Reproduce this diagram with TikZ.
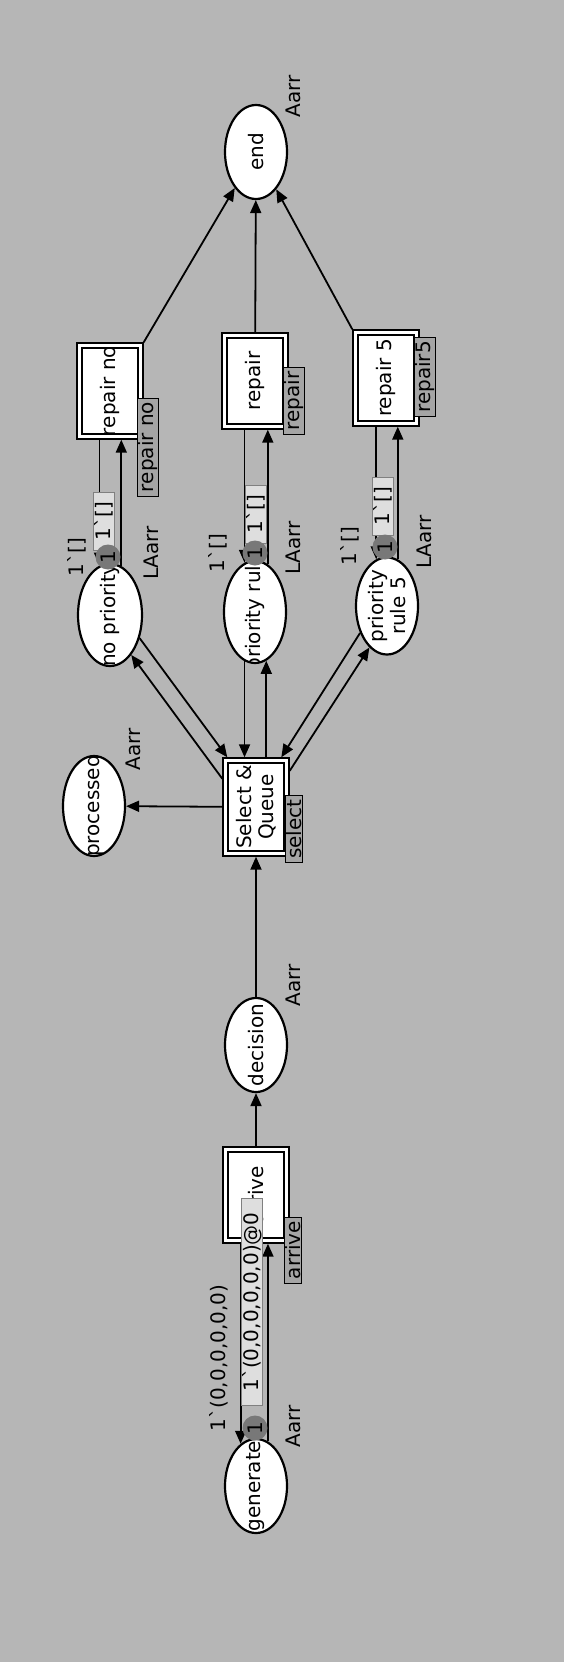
\documentclass[tikz,border=0pt]{standalone}
\usepackage{fontspec}
\setmainfont{DejaVu Sans}
\usetikzlibrary{arrows.meta,shapes.geometric}
\definecolor{bggray}{RGB}{182,182,182}
\definecolor{taggray}{RGB}{165,165,165}
\definecolor{tokgray}{RGB}{120,120,120}
\definecolor{markfill}{RGB}{222,222,222}
\newcommand{\bq}{\textasciigrave}
\tikzset{
  flow/.style={line width=1.8pt,-{Triangle[length=13pt,width=11pt]}},
  lbl/.style={rotate=90,inner sep=0pt},
  tagbox/.style={draw,line width=0.8pt,fill=taggray,rotate=90,inner xsep=4pt,inner ysep=0.5pt},
  markbox/.style={draw=gray,line width=0.6pt,fill=markfill,rotate=90,inner xsep=10pt,inner ysep=1pt},
  token/.style={circle,fill=tokgray,minimum size=25pt,inner sep=0pt,rotate=90}
}
\begin{document}
\begin{tikzpicture}[x=1pt,y=-1pt,
  every node/.style={font=\fontsize{20}{22}\selectfont},
  place/.style={ellipse,draw,line width=2.2pt,fill=white,minimum width=62pt,
    minimum height=94pt,inner sep=0pt,
    path picture={\node[draw=none,fill=none,rotate=90,align=center]
      at (path picture bounding box.center) {#1};}},
  trans/.style={rectangle,draw,line width=2pt,double=white,double distance=2.4pt,
    fill=white,minimum width=61pt,minimum height=91pt,inner sep=0pt,outer sep=3.2pt,
    path picture={\node[draw=none,fill=none,rotate=90,align=center]
      at (path picture bounding box.center) {#1};}}]
\fill[bggray] (0,0) rectangle (564,1662);
\useasboundingbox (0,0) rectangle (564,1662);

% places
\node[place=end] (end) at (256,152) {};
\node[place={no priority},minimum width=64pt,minimum height=102pt] (nopri) at (110,615) {};
\node[place={priority rule},minimum height=102pt] (prirule) at (255,612) {};
\node[place={priority\\rule 5},minimum height=97pt] (prirule5) at (387,606) {};
\node[place=processed,minimum height=100pt] (processed) at (94,806) {};
\node[place=decision] (decision) at (256,1045) {};
\node[place=generate] (generate) at (256,1486) {};

% transitions
\node[trans={repair no}] (repairno) at (110,391) {};
\node[trans=repair] (repair) at (255,381) {};
\node[trans={repair 5}] (repair5) at (386,378) {};
\node[trans={Select \&\\Queue},minimum height=93pt] (select) at (256,807) {};
\node[trans=arrive] (arrive) at (256,1195) {};

% arcs
\draw[flow] (repairno.north east) -- (end);
\draw[flow] (repair) -- (end);
\draw[flow] (repair5.north west) -- (end);
\draw[flow] (nopri.102 |- repairno.south) -- (nopri.102);
\draw[flow] (nopri.77) -- (nopri.77 |- repairno.south);
\draw[flow] (prirule.102 |- repair.south) -- (prirule.102);
\draw[flow] (prirule.75) -- (prirule.75 |- repair.south);
\draw[flow] (prirule5.103 |- repair5.south) -- (prirule5.103);
\draw[flow] (prirule5.77) -- (prirule5.77 |- repair5.south);
\draw[flow] (nopri.-38) -- (select.120);
\draw[flow] (select.140) -- (nopri.-62);
\draw[flow] (prirule.-102) -- (prirule.-102 |- select.north);
\draw[flow] (prirule.-77 |- select.north) -- (prirule.-77);
\draw[flow] (prirule5.-135) -- (select.63);
\draw[flow] (select.47) -- (prirule5.-113);
\draw[flow] (select) -- (processed);
\draw[flow] (decision) -- (select);
\draw[flow] (arrive) -- (decision);
\draw[flow] (generate.110 |- arrive.south) -- (generate.110);
\draw[flow] (generate.75) -- (generate.75 |- arrive.south);

% tags
\node[tagbox] (repairnotag) at (148,447) {repair no};
\node[tagbox] (repairtag) at (294,401) {repair};
\node[tagbox] (repair5tag) at (425,377) {repair5};
\node[tagbox] (selecttag) at (294,829) {select};
\node[tagbox] (arrivetag) at (293,1250) {arrive};

% colour sets and initial markings
\node[lbl] (endtype) at (293,96) {Aarr};
\node[lbl] (proctype) at (133,749) {Aarr};
\node[lbl] (dectype) at (293,985) {Aarr};
\node[lbl] (gentype) at (293,1426) {Aarr};
\node[lbl] (nopritype) at (151,553) {LAarr};
\node[lbl] (prirultype) at (293,548) {LAarr};
\node[lbl] (prirul5type) at (424,542) {LAarr};
\node[lbl] (nopriinit) at (77,557) {1\bq[]};
\node[lbl] (prirulinit) at (218,553) {1\bq[]};
\node[lbl] (prirul5init) at (350,546) {1\bq[]};
\node[lbl] (geninit) at (219,1358) {1\bq(0,0,0,0,0,0)};

% current markings
\node[markbox,inner xsep=14pt] (genmark) at (252,1302) {1\bq(0,0,0,0,0,0)@0};
\node[markbox] (noprimark) at (104,521) {1\bq[]};
\node[markbox] (prirulmark) at (256,514) {1\bq[]};
\node[markbox] (prirul5mark) at (383,506) {1\bq[]};
\node[token] (gentok) at (255,1428) {1};
\node[token] (nopritok) at (108,557) {1};
\node[token] (prirultok) at (255,553) {1};
\node[token] (prirul5tok) at (385,547) {1};
\end{tikzpicture}
\end{document}
